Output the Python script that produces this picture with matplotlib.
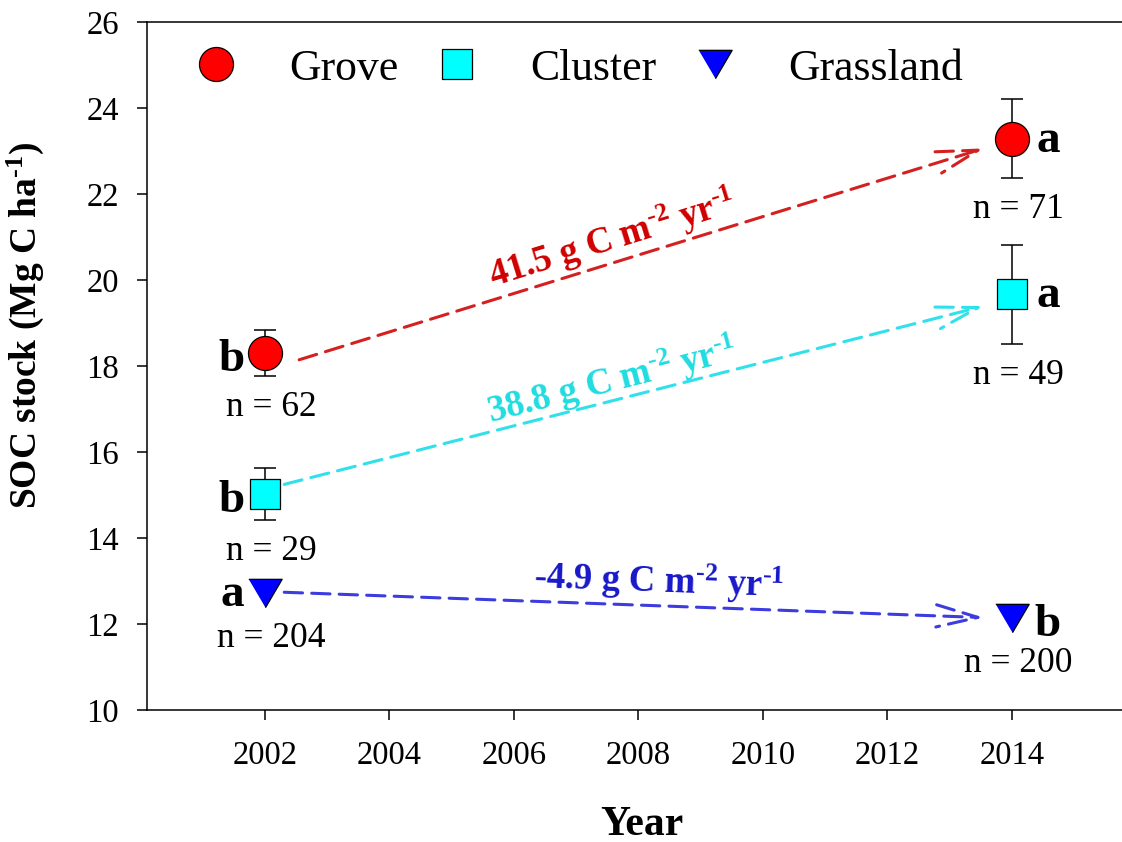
import matplotlib
matplotlib.use('Agg')
import matplotlib.pyplot as plt
import numpy as np

plt.rcParams['font.family'] = 'Liberation Serif'
plt.rcParams['mathtext.fontset'] = 'custom'
plt.rcParams['mathtext.rm'] = 'Liberation Serif'
plt.rcParams['mathtext.default'] = 'regular'

# SOC stock (Mg C ha-1) by vegetation type, mean +/- SE
years = [2002, 2014]
grove_soc = [18.31, 23.29]
grove_se = [0.54, 0.92]
cluster_soc = [15.03, 19.67]
cluster_se = [0.60, 1.15]
grass_soc = [12.72, 12.15]

# sample sizes and significance letters
grove_n = [62, 71]
cluster_n = [29, 49]
grass_n = [204, 200]
grove_letters = ['b', 'a']
cluster_letters = ['b', 'a']
grass_letters = ['a', 'b']

# accumulation rates (g C m-2 yr-1)
rate_labels = ['41.5', '38.8', '-4.9']

x_ticks = [2002, 2004, 2006, 2008, 2010, 2012, 2014]
y_ticks = [10, 12, 14, 16, 18, 20, 22, 24, 26]

tri = [(-1, 0.85), (1, 0.85), (0, -0.85)]

groups = [
    dict(name='Grove', soc=grove_soc, se=grove_se, n=grove_n, letters=grove_letters,
         rate=rate_labels[0], marker='o', ms=24.5, face='#ff0000',
         arrow='#d42020', text='#d00000',
         start=(0.55, -0.16), end=(-0.45, -0.22), label_xy=(2007.58, 20.95)),
    dict(name='Cluster', soc=cluster_soc, se=cluster_se, n=cluster_n, letters=cluster_letters,
         rate=rate_labels[1], marker='s', ms=21, face='#00ffff',
         arrow='#30e0ea', text='#20dce0',
         start=(0.31, 0.22), end=(-0.45, -0.27), label_xy=(2007.57, 17.65)),
    dict(name='Grassland', soc=grass_soc, se=None, n=grass_n, letters=grass_letters,
         rate=rate_labels[2], marker=tri, ms=24, face='#0000ff',
         arrow='#3c3ce0', text='#1818c8',
         start=(0.31, 0.02), end=(-0.45, 0.0), label_xy=(2008.33, 12.98)),
]

# superscript with a plain hyphen (mathtext would turn '-' into a minus sign)
sup = lambda s: '$^{' + s.replace('-', '\u2010') + '}$'

fig = plt.figure(figsize=(11.22, 8.42), dpi=100)
ax = fig.add_axes([0.1307, 0.1568, 0.8693, 0.8165])
ax.set_xlim(2000.1, 2015.77)
ax.set_ylim(10, 26)

for g in groups:
    if g['se'] is not None:
        ax.errorbar(years, g['soc'], yerr=g['se'], fmt='none', ecolor='black',
                    elinewidth=1.1, capsize=8, capthick=1.1, zorder=2)
    ax.plot(years, g['soc'], linestyle='none', marker=g['marker'], markersize=g['ms'],
            markerfacecolor=g['face'], markeredgecolor='black', markeredgewidth=0.9,
            label=g['name'], zorder=3)

    # significance letters and sample sizes
    for i, yr in enumerate(years):
        v = g['soc'][i]
        lx = yr - 0.53 if i == 0 else yr + 0.58
        dy = -0.3 if g['letters'][i] == 'a' else -0.43
        ax.text(lx, v + dy, g['letters'][i], fontsize=34, fontweight='bold',
                ha='center', va='baseline')
        low = v - g['se'][i] if g['se'] is not None else v - 0.33
        ax.text(yr + 0.1, low - 0.93, f"n = {g['n'][i]}", fontsize=25.5,
                ha='center', va='baseline')

    # trend arrow between the two surveys
    x0, y0 = years[0] + g['start'][0], g['soc'][0] + g['start'][1]
    x1, y1 = years[1] + g['end'][0], g['soc'][1] + g['end'][1]
    ax.annotate('', xy=(x1, y1), xytext=(x0, y0),
                arrowprops=dict(arrowstyle='->,head_length=1.5,head_width=0.4',
                                color=g['arrow'], lw=2.2, linestyle=(0, (6, 3)),
                                shrinkA=0, shrinkB=0, mutation_scale=20),
                zorder=1)
    p0 = ax.transData.transform((x0, y0))
    p1 = ax.transData.transform((x1, y1))
    ang = np.degrees(np.arctan2(p1[1] - p0[1], p1[0] - p0[0]))
    ax.text(g['label_xy'][0], g['label_xy'][1],
            g['rate'] + ' g C m' + sup('-2') + ' yr' + sup('-1'),
            color=g['text'], fontsize=26.5, fontweight='bold', rotation=ang,
            rotation_mode='anchor', ha='center', va='center')

ax.set_xticks(x_ticks)
ax.set_yticks(y_ticks)
ax.tick_params(direction='out', length=7, width=1.1, labelsize=23.5, pad=13)
ax.tick_params(axis='x', pad=15)
ax.spines['right'].set_visible(False)
for s in ['left', 'bottom', 'top']:
    ax.spines[s].set_linewidth(1.1)

ax.legend(ncol=3, loc='upper left', bbox_to_anchor=(0.0485, 0.962), frameon=False,
          fontsize=31.5, handlelength=1.0, handletextpad=1.17, columnspacing=0.85,
          borderpad=0, borderaxespad=0)

fig.text(25 / 1122, 1 - 325 / 842, 'SOC stock (Mg C ha' + sup('-1') + ')', rotation=90,
         fontsize=27, fontweight='bold', ha='center', va='center')
fig.text(642 / 1122, 1 - 825 / 842, 'Year', fontsize=30, fontweight='bold',
         ha='center', va='center')

fig.savefig('out.png', dpi=100)
